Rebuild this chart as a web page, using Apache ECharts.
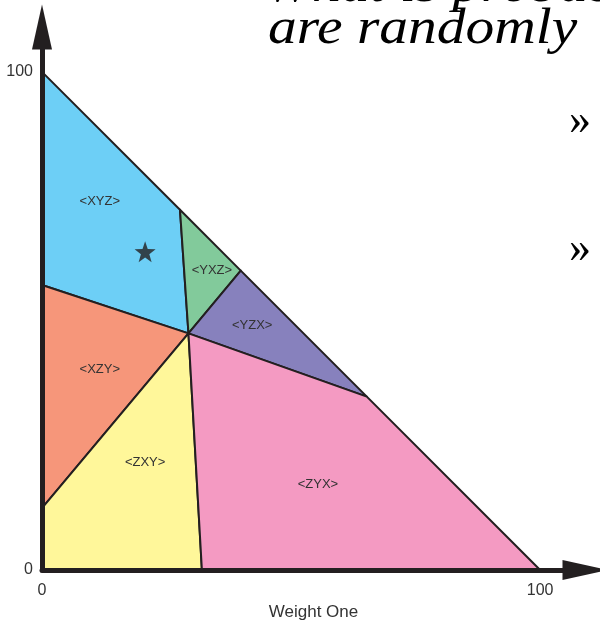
<!DOCTYPE html>
<html>
<head>
<meta charset="utf-8">
<script src="https://cdn.jsdelivr.net/npm/echarts@6/dist/echarts.min.js"></script>
<style>
  html, body { margin: 0; padding: 0; background: #fff; }
  #chart { width: 600px; height: 625px; }
</style>
</head>
<body>
<div id="chart"></div>
<script>
// region names, corners (Weight One, Weight Two) and label anchors
const regionNames = ["<XYZ>", "<YXZ>", "<YZX>", "<XZY>", "<ZXY>", "<ZYX>"];
const regionPolygons = [
  [[0, 100], [27.7, 72.3], [29.4, 47.5], [0, 57.2]],
  [[27.7, 72.3], [39.9, 60.1], [29.4, 47.5]],
  [[29.4, 47.5], [39.9, 60.1], [65.2, 34.8]],
  [[29.4, 47.5], [0, 57.2], [0, 12.4]],
  [[29.4, 47.5], [0, 12.4], [0, 0], [32.1, 0]],
  [[29.4, 47.5], [32.1, 0], [100, 0], [65.2, 34.8]]
];
const labelPoints = [
  [11.6, 74.0], [34.1, 60.2], [42.2, 49.0], [11.6, 40.2], [20.7, 21.5], [55.4, 17.1]
];
const starPoint = [[20.7, 63.9]];
const axisTicks = [0, 100];

const regionColors = ["#6dcff6", "#82ca9b", "#8781bd", "#f6967a", "#fff79a", "#f49ac2"];

const chart = echarts.init(document.getElementById("chart"));

const axisCommon = {
  type: "value",
  min: 0,
  max: 109,
  interval: 100,
  z: 10,
  splitLine: { show: false },
  axisTick: { show: false },
  axisLine: {
    show: true,
    symbol: ["none", "triangle"],
    symbolSize: [20, 45],
    lineStyle: { color: "#231f20", width: 5 }
  },
  axisLabel: {
    color: "#333",
    fontSize: 16,
    fontFamily: "Liberation Sans",
    formatter: (v) => (axisTicks.includes(v) ? String(v) : "")
  }
};

const option = {
  animation: false,
  backgroundColor: "#fff",
  grid: { left: 42, right: 15, top: 27, bottom: 55, outerBoundsMode: "none", containLabel: false },
  xAxis: Object.assign({}, axisCommon, {
    name: "Weight One",
    nameLocation: "middle",
    nameGap: 34,
    nameTextStyle: { color: "#333", fontSize: 17, fontFamily: "Liberation Sans" },
    axisLabel: Object.assign({}, axisCommon.axisLabel, { margin: 13 })
  }),
  yAxis: Object.assign({}, axisCommon, {
    axisLabel: Object.assign({}, axisCommon.axisLabel, { margin: 9 })
  }),
  graphic: [
    {
      type: "text", x: 264, y: -12, scaleX: 1.15,
      style: { text: "What is probability", font: 'italic 50px "Liberation Serif"', fill: "#000", verticalAlign: "middle" }
    },
    {
      type: "text", x: 268, y: 30, scaleX: 1.15,
      style: { text: "are randomly", font: 'italic 50px "Liberation Serif"', fill: "#000", verticalAlign: "middle" }
    },
    {
      type: "text", x: 580, y: 122,
      style: { text: "»", font: '44px "Liberation Serif"', fill: "#000", align: "center", verticalAlign: "middle" }
    },
    {
      type: "text", x: 580, y: 250,
      style: { text: "»", font: '44px "Liberation Serif"', fill: "#000", align: "center", verticalAlign: "middle" }
    }
  ],
  series: [
    {
      type: "custom",
      data: regionNames.map((n, i) => [i]),
      renderItem: function (params, api) {
        const i = api.value(0);
        const pts = regionPolygons[i].map((p) => api.coord(p));
        const lp = api.coord(labelPoints[i]);
        return {
          type: "group",
          children: [
            {
              type: "polygon",
              shape: { points: pts },
              style: { fill: regionColors[i], stroke: "#231f20", lineWidth: 2, lineJoin: "round" }
            },
            {
              type: "text",
              x: lp[0], y: lp[1],
              style: {
                text: regionNames[i],
                fill: "#333",
                font: '13px "Liberation Sans"',
                align: "center",
                verticalAlign: "middle"
              }
            }
          ]
        };
      }
    },
    {
      type: "scatter",
      data: starPoint,
      symbol: "path://M0,-10 L2.35,-3.24 L9.51,-3.09 L3.8,1.24 L5.88,8.09 L0,4 L-5.88,8.09 L-3.8,1.24 L-9.51,-3.09 L-2.35,-3.24 Z",
      symbolSize: 21,
      itemStyle: { color: "#231f20" },
      z: 5
    }
  ]
};

chart.setOption(option);
</script>
</body>
</html>
